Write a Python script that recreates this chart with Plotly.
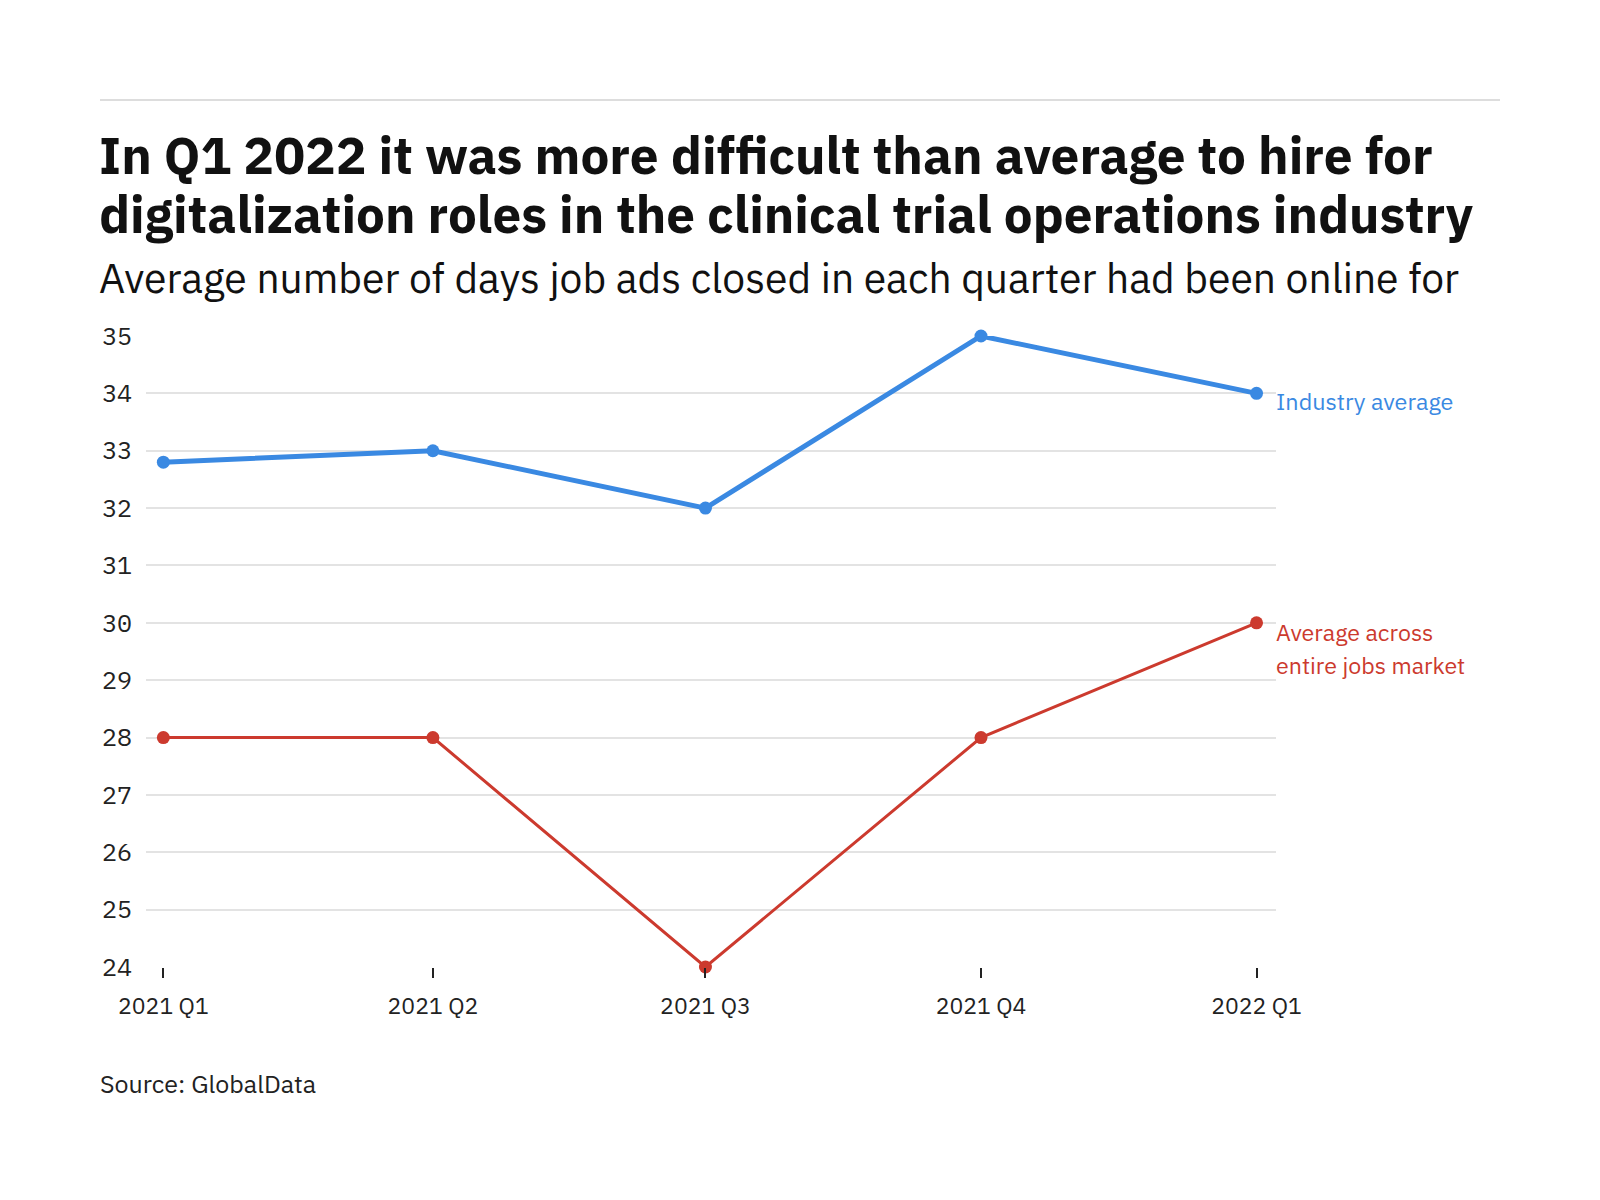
import plotly.graph_objects as go

quarter_dates = ["2021-01-01", "2021-04-01", "2021-07-01", "2021-10-01", "2022-01-01"]
quarter_labels = ["2021 Q1", "2021 Q2", "2021 Q3", "2021 Q4", "2022 Q1"]
industry = [32.8, 33, 32, 35, 34]
market = [28, 28, 24, 28, 30]
y_ticks = list(range(24, 36))

W, H = 1600, 1200
L, R, T, B = 138, 332, 328, 241
FONT = "IBM Plex Sans, Noto Sans, sans-serif"
MONO = "IBM Plex Mono, DejaVu Sans Mono, monospace"
BLUE = "#3a89e2"
RED = "#cc3a2e"


def px(x):
    return (x - L) / (W - L - R)


def py(y):
    return (H - B - y) / (H - T - B)


fig = go.Figure()
fig.add_trace(go.Scatter(x=quarter_dates, y=market, mode="lines+markers",
                         line=dict(color=RED, width=3),
                         marker=dict(color=RED, size=13),
                         cliponaxis=False, showlegend=False))
fig.add_trace(go.Scatter(x=quarter_dates, y=industry, mode="lines+markers",
                         line=dict(color=BLUE, width=5),
                         marker=dict(color=BLUE, size=13),
                         cliponaxis=False, showlegend=False))

annotations = [
    dict(text="In Q1 2022 it was more difficult than average to hire for",
         x=px(89), y=py(147), font=dict(size=51.3, color="#111", family=FONT, weight="bold")),
    dict(text="digitalization roles in the clinical trial operations industry",
         x=px(89), y=py(206), font=dict(size=51.2, color="#111", family=FONT, weight="bold")),
    dict(text="Average number of days job ads closed in each quarter had been online for",
         x=px(89), y=py(270), font=dict(size=40.8, color="#111", family=FONT)),
    dict(text="Source: GlobalData",
         x=px(90), y=py(1075), font=dict(size=25, color="#222", family=FONT)),
    dict(text="Industry average",
         x=px(1266), y=py(393), font=dict(size=23.4, color=BLUE, family=FONT)),
    dict(text="Average across",
         x=px(1266), y=py(624), font=dict(size=23.2, color=RED, family=FONT)),
    dict(text="entire jobs market",
         x=px(1266), y=py(657), font=dict(size=23.2, color=RED, family=FONT)),
]
for a in annotations:
    a.update(xref="paper", yref="paper", xanchor="left", yanchor="middle",
             showarrow=False, align="left")

fig.update_layout(
    width=W, height=H,
    margin=dict(l=L, r=R, t=T, b=B, pad=0),
    paper_bgcolor="white", plot_bgcolor="white",
    font=dict(family=FONT, color="#222"),
    annotations=annotations,
    shapes=[dict(type="line", xref="paper", yref="paper",
                 x0=px(92), x1=px(1492), y0=py(92), y1=py(92),
                 line=dict(color="#dddddd", width=2))],
    xaxis=dict(type="date", range=["2020-12-26 05:00", "2022-01-07 12:00"],
               tickvals=quarter_dates, ticktext=quarter_labels,
               showgrid=False, showline=False, zeroline=False,
               ticks="outside", ticklen=10, tickwidth=2, tickcolor="#222",
               tickfont=dict(size=23, color="#222", family=FONT),
               ticklabelstandoff=8),
    yaxis=dict(range=[24, 35], tickvals=y_ticks, showgrid=True,
               gridcolor="#e3e3e3", gridwidth=2, zeroline=False, showline=False,
               tickfont=dict(size=25, color="#222", family=MONO),
               ticklabelstandoff=13),
)

fig.write_html("out.html")
